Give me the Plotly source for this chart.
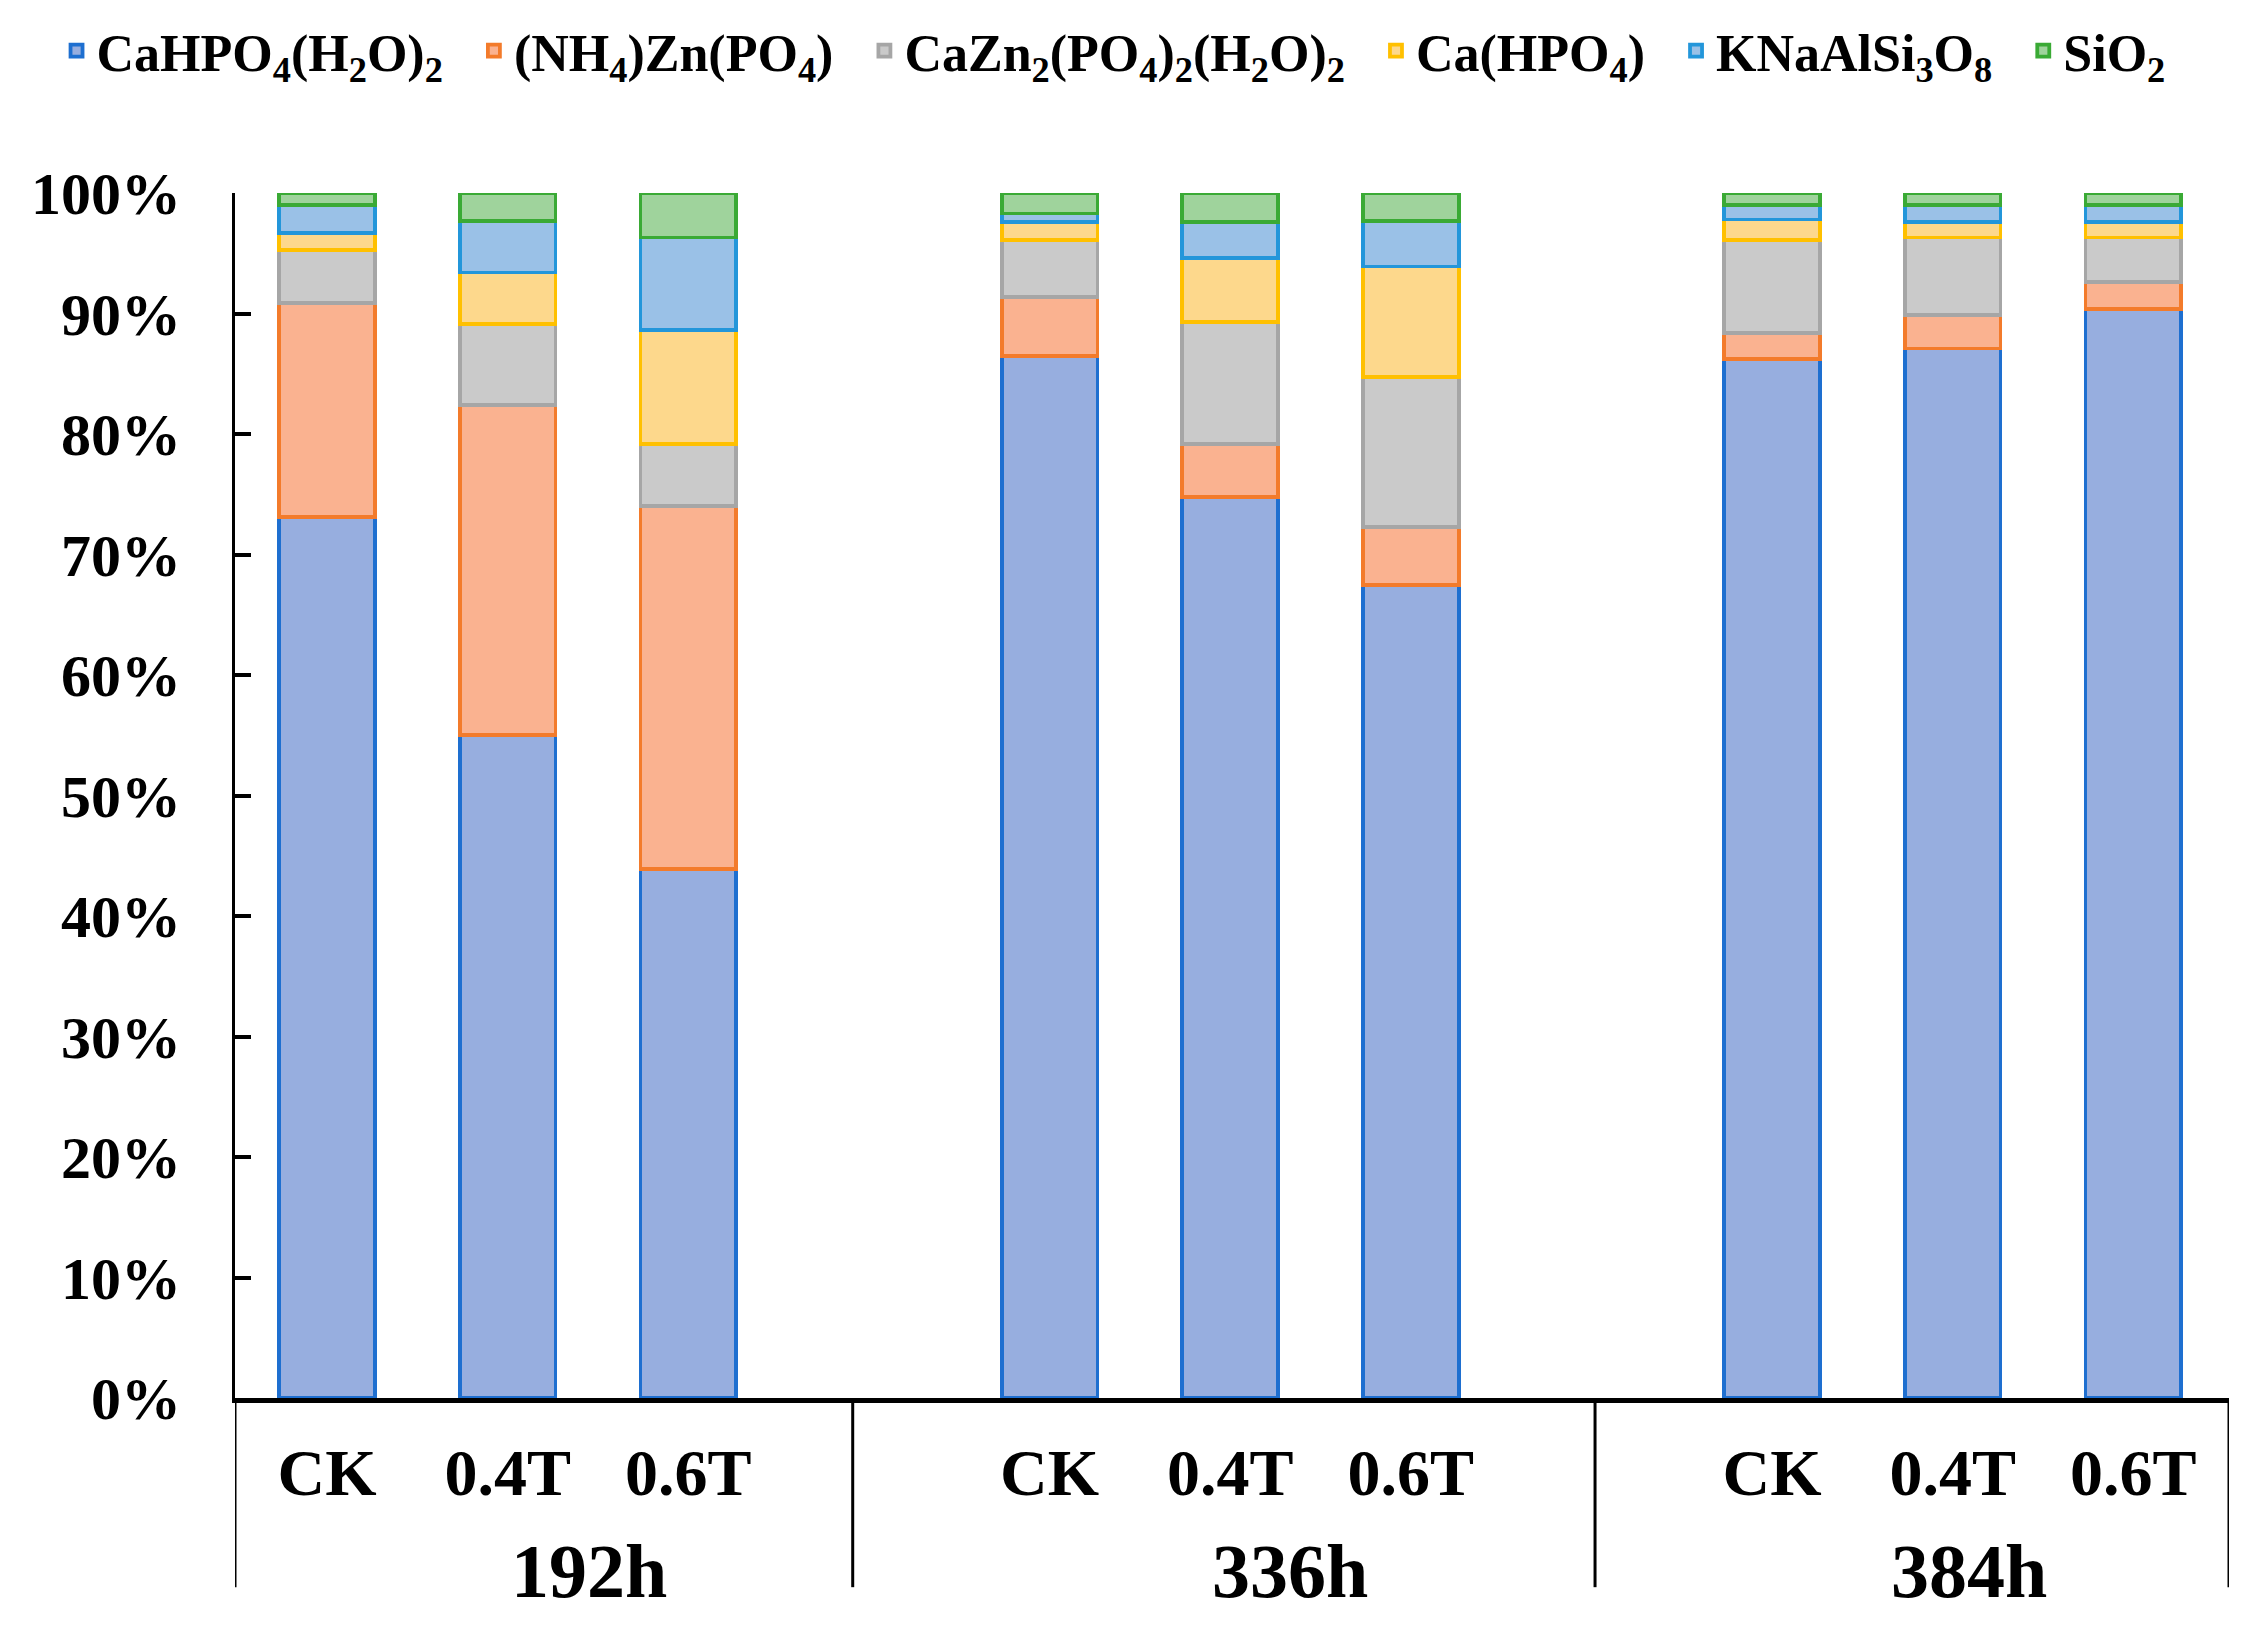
import plotly.graph_objects as go

# ---- data ----
groups = ["192h", "336h", "384h"]
treatments = ["CK", "0.4T", "0.6T"]
phases = [
    "CaHPO<sub>4</sub>(H<sub>2</sub>O)<sub>2</sub>",
    "(NH<sub>4</sub>)Zn(PO<sub>4</sub>)",
    "CaZn<sub>2</sub>(PO<sub>4</sub>)<sub>2</sub>(H<sub>2</sub>O)<sub>2</sub>",
    "Ca(HPO<sub>4</sub>)",
    "KNaAlSi<sub>3</sub>O<sub>8</sub>",
    "SiO<sub>2</sub>",
]
# values in %, order: 192h CK,0.4T,0.6T | 336h CK,0.4T,0.6T | 384h CK,0.4T,0.6T
cahpo4_h2o2 = [73.1, 55.0, 43.9, 86.5, 74.8, 67.5, 86.2, 87.1, 90.4]
nh4znpo4    = [17.8, 27.4, 30.1, 4.9, 4.4, 4.8, 2.2, 2.8, 2.2]
cazn2       = [4.4, 6.7, 5.2, 4.7, 10.1, 12.4, 7.7, 6.4, 3.7]
cahpo4      = [1.4, 4.3, 9.4, 1.5, 5.3, 9.2, 1.7, 1.3, 1.3]
knaalsi3o8  = [2.3, 4.3, 7.7, 0.7, 3.0, 3.8, 1.2, 1.4, 1.4]
sio2        = [1.0, 2.3, 3.7, 1.7, 2.4, 2.3, 1.0, 1.0, 1.0]
series = [cahpo4_h2o2, nh4znpo4, cazn2, cahpo4, knaalsi3o8, sio2]
ytick_vals = list(range(0, 101, 10))
ytick_text = [f"{v}%" for v in ytick_vals]

fills = ["#97AEDF", "#FAB290", "#CACACA", "#FDD88C", "#9AC1E7", "#9FD39C"]
lines = ["#1E6FD0", "#F37B2B", "#A6A6A6", "#FFC000", "#2396DA", "#3AAA35"]

# x positions: one empty slot between groups
xpos = [g * 4 + t for g in range(len(groups)) for t in range(len(treatments))]
xlabels = [t for g in groups for t in treatments]

FONT = "Liberation Serif"
PAD = "&nbsp;&nbsp;"

fig = go.Figure()
for name, vals, fc, lc in zip(phases, series, fills, lines):
    fig.add_trace(go.Bar(
        x=xpos, y=vals, name=name + PAD, width=0.53,
        marker=dict(color=fc, line=dict(color=lc, width=3.8)),
    ))

# group separators below axis and group labels
sep_x = [-0.51, 2.91, 7.02, 10.53]
for sx in sep_x:
    fig.add_shape(type="line", xref="x", yref="paper", x0=sx, x1=sx, y0=0, y1=-0.157,
                  line=dict(color="black", width=3))
group_label_x = [1.45, 5.33, 9.09]
for gx, gname in zip(group_label_x, groups):
    fig.add_annotation(x=gx, y=-0.1436, xref="x", yref="paper", text=gname, showarrow=False,
                       font=dict(family=FONT, size=76, color="black", weight=700),
                       yanchor="middle", xanchor="center")

fig.update_layout(
    width=2262, height=1650,
    margin=dict(l=227, r=41, t=185, b=260, autoexpand=False),
    barmode="stack",
    plot_bgcolor="white", paper_bgcolor="white",
    font=dict(family=FONT, color="black", weight=700),
    showlegend=True,
    legend=dict(orientation="h", x=-0.0895, xanchor="left", y=1.118, yanchor="middle",
                traceorder="normal", font=dict(family=FONT, size=52, weight=700),
                itemwidth=30, tracegroupgap=0),
    xaxis=dict(range=[-0.51, 10.53], tickvals=xpos, ticktext=xlabels, automargin=False,
               showgrid=False, zeroline=False, showline=True, linecolor="black",
               linewidth=5, ticks="", ticklabelstandoff=13,
               tickfont=dict(family=FONT, size=66, color="black", weight=700)),
    yaxis=dict(range=[0, 100], tickvals=ytick_vals, ticktext=ytick_text, automargin=False,
               showgrid=False, zeroline=False, showline=True, linecolor="black",
               linewidth=3, ticks="inside", ticklen=16, tickwidth=4, tickcolor="black",
               ticklabelstandoff=39,
               tickfont=dict(family=FONT, size=60, color="black", weight=700)),
)

fig.write_html("out.html")
